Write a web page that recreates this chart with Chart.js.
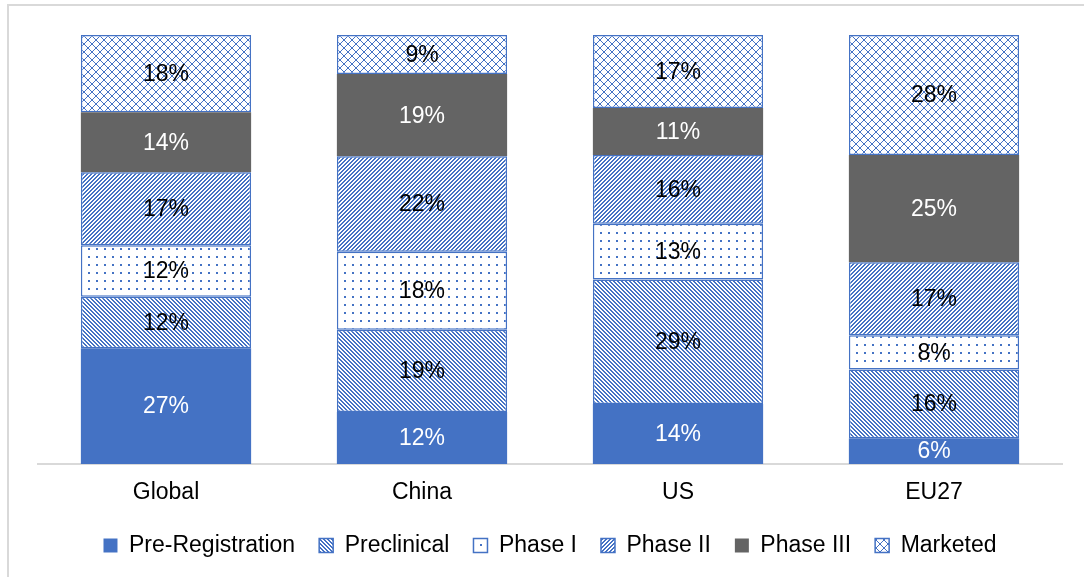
<!DOCTYPE html>
<html>
<head>
<meta charset="utf-8">
<script src="https://cdn.jsdelivr.net/npm/chart.js@4"></script>
<style>
  html, body { margin: 0; padding: 0; background: #fff; overflow: hidden; }
  #frame { position: absolute; left: 7px; top: 4px; width: 1200px; height: 700px; border: 2px solid #d9d9d9; }
  #wrap { position: absolute; left: 0; top: 0; width: 1084px; height: 577px; }
</style>
</head>
<body>
<div id="frame"></div>
<div id="wrap"><canvas id="chart"></canvas></div>
<script>
const categories = ['Global', 'China', 'US', 'EU27'];
const seriesNames = ['Pre-Registration', 'Preclinical', 'Phase I', 'Phase II', 'Phase III', 'Marketed'];
const preRegistration = [27, 12, 14, 6];
const preclinical = [12, 19, 29, 16];
const phaseI = [12, 18, 13, 8];
const phaseII = [17, 22, 16, 17];
const phaseIII = [14, 19, 11, 25];
const marketed = [18, 9, 17, 28];

const BLUE = '#4472C4';
const GREY = '#646464';

Chart.defaults.font.family = '"Liberation Sans", Arial, sans-serif';
Chart.defaults.color = '#000';

// 8x8 pixel tiles, like the Office fill patterns
const makePattern = (test) => {
    const tile = document.createElement('canvas');
    tile.width = 8;
    tile.height = 8;
    const g = tile.getContext('2d');
    g.fillStyle = '#fff';
    g.fillRect(0, 0, 8, 8);
    g.fillStyle = BLUE;
    for (let y = 0; y < 8; y++) {
        for (let x = 0; x < 8; x++) {
            if (test(x, y)) g.fillRect(x, y, 1, 1);
        }
    }
    return g.createPattern(tile, 'repeat');
};

const downDiag = makePattern((x, y) => ((x - y + 8) % 4) < 2);
const upDiag = makePattern((x, y) => ((x + y) % 4) < 2);
const dots = makePattern((x, y) => x < 2 && y < 2);
const diamonds = makePattern((x, y) => x === y || x === 7 - y);

const rawSeries = [preRegistration, preclinical, phaseI, phaseII, phaseIII, marketed];
const fills = [BLUE, downDiag, dots, upDiag, GREY, diamonds];
const labelColors = ['#fff', '#000', '#000', '#000', '#fff', '#000'];
const solid = [true, false, false, false, true, false];

// 100% stacked: each column is scaled to its own total
const totals = categories.map((c, j) => rawSeries.reduce((s, arr) => s + arr[j], 0));

const datasets = rawSeries.map((arr, i) => ({
    label: seriesNames[i],
    raw: arr,
    labelColor: labelColors[i],
    data: arr.map((v, j) => v / totals[j] * 100),
    backgroundColor: fills[i],
    borderColor: solid[i] ? fills[i] : BLUE,
    borderWidth: solid[i] ? 0 : 1.5,
    borderSkipped: false,
    categoryPercentage: 0.665,
    barPercentage: 1
}));

const barLabels = {
    id: 'barLabels',
    afterDatasetsDraw(chart) {
        const ctx = chart.ctx;
        ctx.save();
        ctx.font = '23px "Liberation Sans", Arial, sans-serif';
        ctx.textAlign = 'center';
        ctx.textBaseline = 'middle';
        chart.data.datasets.forEach((ds, i) => {
            chart.getDatasetMeta(i).data.forEach((bar, j) => {
                const { x, y, base } = bar.getProps(['x', 'y', 'base'], true);
                ctx.fillStyle = ds.labelColor;
                ctx.fillText(ds.raw[j] + '%', x, (y + base) / 2 + 1);
            });
        });
        ctx.restore();
    }
};

new Chart(document.getElementById('chart'), {
    type: 'bar',
    data: { labels: categories, datasets },
    plugins: [barLabels],
    options: {
        responsive: true,
        maintainAspectRatio: false,
        animation: false,
        layout: { padding: { top: 35, left: 38, right: 22, bottom: 10 } },
        scales: {
            x: {
                stacked: true,
                grid: { display: false, drawTicks: false },
                border: { color: '#d9d9d9', width: 2 },
                ticks: { color: '#000', font: { size: 23 }, padding: 15 },
                afterFit: (scale) => { scale.height = 46; }
            },
            y: { stacked: true, display: false, min: 0, max: 100 }
        },
        plugins: {
            legend: {
                position: 'bottom',
                labels: { boxWidth: 14, boxHeight: 14, padding: 24, color: '#000', font: { size: 23 } }
            },
            tooltip: { enabled: false }
        }
    }
});
</script>
</body>
</html>
